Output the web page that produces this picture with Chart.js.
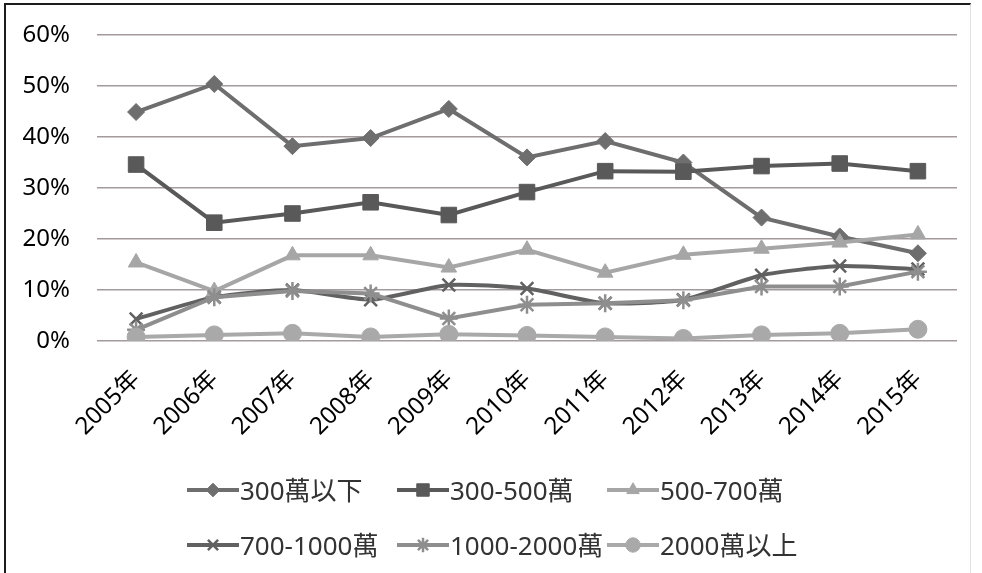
<!DOCTYPE html>
<html>
<head>
<meta charset="utf-8">
<script src="https://cdn.jsdelivr.net/npm/chart.js@4.4.1/dist/chart.umd.min.js"></script>
<style>
  html, body { margin: 0; padding: 0; background: #ffffff; }
  #wrap { position: relative; width: 982px; height: 573px; overflow: hidden; }
  canvas { display: block; }
  #frame {
    position: absolute; left: 4px; top: 3px; width: 964px; height: 568px;
    border-left: 2px solid #1c1c1c; border-top: 2px solid #1c1c1c;
    border-right: 1px solid #e2e2e2; border-bottom: 1px solid #e2e2e2;
    pointer-events: none;
  }
  #legend { position: absolute; left: 0; top: 0; width: 982px; height: 573px; pointer-events: none; }
  .item { position: absolute; height: 40px; display: flex; align-items: center; white-space: nowrap; }
  .item canvas { margin-right: 1px; }
  .item span {
    font-family: 'Noto Sans', 'Noto Sans CJK TC', sans-serif;
    font-size: 26px; line-height: 40px; color: #333333;
  }
</style>
</head>
<body>
<div id="wrap">
  <canvas id="chart" width="982" height="573"></canvas>
  <div id="legend"></div>
  <div id="frame"></div>
</div>
<script>
// Share of transactions by price bracket, 2005–2015 (percent)
const years = ['2005年', '2006年', '2007年', '2008年', '2009年', '2010年', '2011年', '2012年', '2013年', '2014年', '2015年'];
const seriesNames = ['300萬以下', '300-500萬', '500-700萬', '700-1000萬', '1000-2000萬', '2000萬以上'];

const under300   = [44.9, 50.4, 38.2, 39.8, 45.5, 36.0, 39.2, 35.0, 24.2, 20.5, 17.2];
const from300    = [34.6, 23.2, 25.0, 27.2, 24.7, 29.2, 33.3, 33.2, 34.3, 34.8, 33.3];
const from500    = [15.4,  9.8, 16.8, 16.8, 14.4, 17.9, 13.4, 16.9, 18.1, 19.3, 20.9];
const from700    = [ 4.3,  8.6, 10.0,  8.1, 11.0, 10.3,  7.4,  8.1, 12.9, 14.7, 14.1];
const from1000   = [ 2.2,  8.6,  9.8,  9.3,  4.4,  7.1,  7.4,  8.0, 10.7, 10.7, 13.6];
const over2000   = [ 0.8,  1.2,  1.5,  0.8,  1.3,  1.1,  0.8,  0.5,  1.2,  1.5,  2.3];

const yTicks = [0, 10, 20, 30, 40, 50, 60];

const seriesValues = [under300, from300, from500, from700, from1000, over2000];
const colors  = ['#6e6e6e', '#595959', '#a6a6a6', '#616161', '#8e8e8e', '#a9a9a9'];
const shapes  = ['rectRot', 'rect', 'triangle', 'crossRot', 'star', 'circle'];
const radii   = [8.5, 11, 9, 9, 9, 9];
const borders = [1, 1, 1, 2.5, 2.5, 1];
const tensions = [0, 0, 0, 0.2, 0, 0];

const FONT = "'Noto Sans', 'Noto Sans CJK TC', sans-serif";

const datasets = seriesValues.map((vals, i) => ({
  label: seriesNames[i],
  data: vals,
  borderColor: colors[i],
  backgroundColor: colors[i],
  borderWidth: 4,
  tension: tensions[i],
  pointStyle: shapes[i],
  pointRadius: radii[i],
  pointHoverRadius: radii[i],
  pointBorderWidth: borders[i],
  pointBackgroundColor: colors[i],
  pointBorderColor: colors[i],
  order: 10 - i
}));

new Chart(document.getElementById('chart'), {
  type: 'line',
  data: { labels: years, datasets },
  options: {
    responsive: false,
    animation: false,
    devicePixelRatio: 1,
    layout: { padding: { left: 22, right: 25, top: 35, bottom: 125 } },
    plugins: {
      legend: { display: false },
      tooltip: { enabled: false }
    },
    scales: {
      x: {
        type: 'category',
        offset: true,
        grid: { display: false, drawTicks: false },
        border: { display: false },
        ticks: {
          color: '#000000',
          font: { family: FONT, size: 24 },
          minRotation: 45,
          maxRotation: 45,
          autoSkip: false,
          padding: 24
        },
        afterFit: (s) => { s.height = 107; s.paddingTop = 0; s.paddingBottom = 0; }
      },
      y: {
        min: yTicks[0],
        max: yTicks[yTicks.length - 1],
        afterBuildTicks: (s) => { s.ticks = yTicks.map(v => ({ value: v })); },
        grid: { color: '#a39b9b', lineWidth: 1.5, drawTicks: false },
        border: { display: false },
        ticks: {
          color: '#000000',
          font: { family: FONT, size: 24 },
          padding: 27,
          callback: (v) => v + '%'
        },
        afterFit: (s) => { s.width = 75; s.paddingTop = 0; s.paddingBottom = 0; }
      }
    }
  }
});

// Legend: three columns, two rows, line-and-marker key beside each name
const legend = document.getElementById('legend');
const drawPoint = Chart.helpers && Chart.helpers.drawPoint;
seriesNames.forEach((name, i) => {
  const col = i % 3, row = Math.floor(i / 3);
  const item = document.createElement('div');
  item.className = 'item';
  item.style.left = (187 + col * 210) + 'px';
  item.style.top = (470 + row * 55) + 'px';
  const icon = document.createElement('canvas');
  icon.width = 52; icon.height = 26;
  const ctx = icon.getContext('2d');
  ctx.strokeStyle = colors[i];
  ctx.fillStyle = colors[i];
  ctx.lineWidth = 4;
  ctx.beginPath(); ctx.moveTo(0, 13); ctx.lineTo(52, 13); ctx.stroke();
  if (drawPoint) {
    ctx.lineWidth = borders[i];
    drawPoint(ctx, { pointStyle: shapes[i], rotation: 0, radius: radii[i] * 0.8, borderWidth: borders[i] }, 26, 13);
  }
  const label = document.createElement('span');
  label.textContent = name;
  item.appendChild(icon);
  item.appendChild(label);
  legend.appendChild(item);
});
</script>
</body>
</html>
